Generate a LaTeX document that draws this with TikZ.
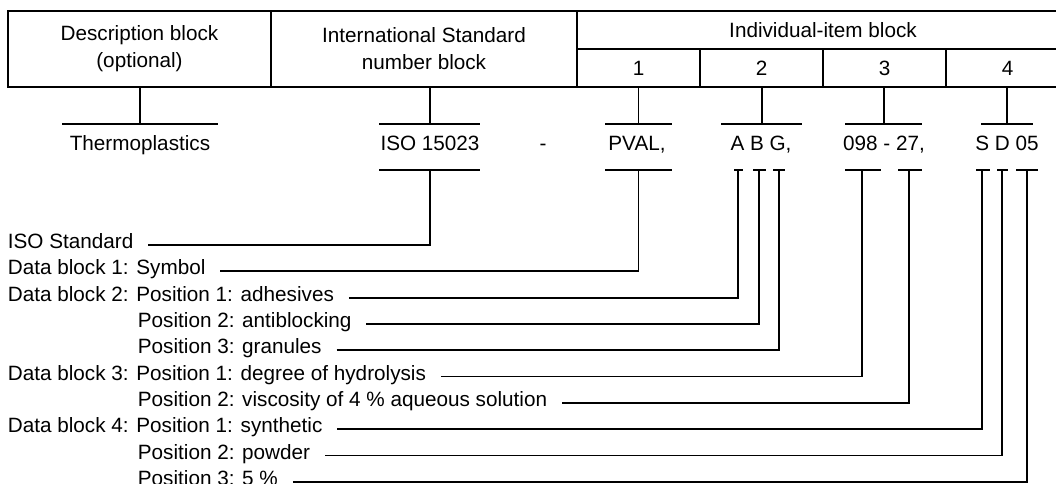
\documentclass[tikz,border=0pt]{standalone}
\usepackage{fontspec}
\setmainfont{Liberation Sans}
\begin{document}
\begin{tikzpicture}[x=1pt,y=-1pt,line width=1.8pt,font=\fontsize{20.7}{27}\selectfont,
  cell/.style={draw, inner sep=0pt, align=center},
  code/.style={inner sep=0pt, text height=0.72em, text depth=0pt},
  lbl/.style={anchor=west, inner sep=0pt, text height=0.72em, text depth=0pt}]
\useasboundingbox (0,0) rectangle (1056,483);
\clip (0,0) rectangle (1056,483);
\node[cell, minimum width=263, minimum height=76] (desc) at (139.5,49) {Description block\\(optional)};
\node[cell, minimum width=306, minimum height=76] (isn) at (424,49) {International Standard\\number block};
\node[cell, minimum width=492, minimum height=38] (ind) at (823,30) {Individual-item block};
\foreach \n/\x in {1/638.5,2/761.5,3/884.5,4/1007.5}
  \node[cell, minimum width=123, minimum height=38] (c\n) at (\x,68) {\n};
\node[code] (thermo) at (140,147) {Thermoplastics};
\node[code] (iso) at (430,147) {ISO 15023};
\node[code] (dash) at (543,147) {-};
\node[code] (pval) at (637,147) {PVAL,};
\node[code] (abg) at (761,147) {A B G,};
\node[code] (dhv) at (884,147) {098 - 27,};
\node[code] (sdo) at (1007,147) {S D 05};
\foreach \c/\x/\a/\b in {desc/140/62/218, isn/430/379/480, c1/638.5/605/672, c2/762/721/802, c3/884/845/922, c4/1007/981/1033} {
  \coordinate (t\c) at (\x,124);
  \draw (\c.south -| t\c) -- (t\c);
  \draw (\a,124) -- (\b,124);
}
\foreach \i/\x/\t in {0/7/ISO Standard, 1/7/Data block 1: Symbol, 2/7/Data block 2: Position 1: adhesives,
  3/137/Position 2: antiblocking, 4/137/Position 3: granules, 5/7/Data block 3: Position 1: degree of hydrolysis,
  6/137/Position 2: viscosity of 4 \% aqueous solution, 7/7/Data block 4: Position 1: synthetic,
  8/137/Position 2: powder, 9/137/Position 3: 5 \%}
  \node[lbl] (r\i) at (\x,{245+26.3*\i}) {\t};
\foreach \i/\x/\a/\b in {0/430/379/480, 1/638.5/605/672, 2/737.7/734/743, 3/759/753/766, 4/779/773/785,
  5/862.3/845/881, 6/909.3/898/922, 7/982.3/976/990, 8/1002.3/997/1008, 9/1026.7/1016/1038} {
  \coordinate (d\i) at (\x,170);
  \draw (\a,170) -- (\b,170);
  \draw[shorten <=14] (r\i.east) -| (d\i);
}
\end{tikzpicture}
\end{document}
